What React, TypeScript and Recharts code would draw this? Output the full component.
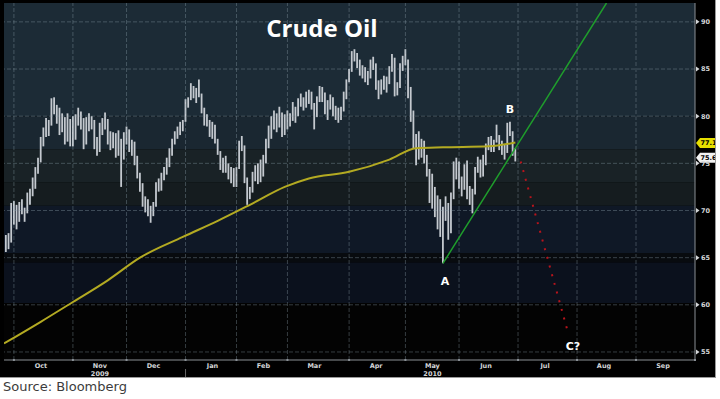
import {
  ComposedChart,
  Bar,
  Line,
  XAxis,
  YAxis,
  ReferenceArea,
  ReferenceLine,
  ReferenceDot,
} from "recharts";

// trading-day index, 0 = Oct 1 2009 (future months counted as weekdays)
const monthStarts = [0, 22, 42, 64, 83, 102, 125, 146, 166, 188, 210, 232, 254];
const monthLabels = ["Oct", "Nov", "Dec", "Jan", "Feb", "Mar", "Apr", "May", "Jun", "Jul", "Aug", "Sep"];
const years = [
  { month: "Nov", label: "2009" },
  { month: "May", label: "2010" },
];
const priceTicks = [55, 60, 65, 70, 75, 80, 85, 90];

const firstDay = -3; // Sep 28 2009

const sepHigh = [67.4, 67.6, 70.8];
const sepLow = [65.6, 65.9, 66.6];
const octHigh = [71.0, 70.6, 70.9, 71.2, 70.3, 71.9, 72.3, 73.5, 74.6, 75.6, 77.8, 78.8, 79.8, 79.6, 81.9, 82.0, 81.2, 80.9, 80.3, 79.9, 80.3, 79.7];
const octLow = [68.5, 68.0, 68.8, 69.6, 68.8, 69.7, 70.6, 71.5, 72.3, 73.9, 75.1, 76.8, 77.8, 77.9, 79.0, 80.2, 79.2, 78.0, 78.3, 77.0, 77.3, 76.8];
const novHigh = [80.0, 80.2, 80.9, 80.5, 79.8, 79.9, 80.3, 80.0, 79.6, 77.8, 79.3, 79.8, 80.4, 79.7, 78.4, 78.3, 78.2, 78.5, 77.6, 78.3];
const novLow = [76.8, 77.5, 79.0, 78.6, 76.5, 77.0, 78.4, 78.6, 76.5, 75.8, 76.2, 78.0, 78.6, 77.0, 76.4, 76.6, 75.6, 75.8, 72.5, 75.4];
const decHigh = [78.9, 78.6, 77.5, 77.3, 75.8, 74.0, 72.9, 71.5, 71.2, 70.5, 70.9, 73.0, 73.4, 74.0, 74.6, 75.6, 76.6, 77.6, 78.4, 78.9, 79.4, 79.6];
const decLow = [77.0, 76.2, 75.8, 74.8, 73.4, 72.0, 70.4, 69.8, 69.4, 68.7, 69.4, 70.4, 72.0, 72.1, 73.2, 73.8, 74.6, 75.8, 77.0, 77.6, 78.0, 78.4];
const janHigh = [81.8, 82.0, 83.5, 83.2, 83.0, 83.9, 82.4, 80.9, 80.2, 79.6, 79.4, 79.1, 77.6, 76.3, 75.6, 75.8, 75.0, 74.6, 74.5];
const janLow = [79.4, 80.9, 81.7, 81.9, 81.4, 82.0, 80.3, 79.0, 78.9, 77.8, 77.6, 77.1, 75.9, 74.3, 74.0, 74.0, 73.3, 72.9, 72.5];
const febHigh = [74.6, 77.4, 77.9, 76.9, 73.5, 72.5, 74.1, 74.8, 75.0, 75.4, 75.9, 77.6, 79.0, 80.0, 80.6, 80.3, 81.0, 80.4, 80.2];
const febLow = [72.5, 74.4, 76.3, 72.9, 70.6, 71.2, 71.9, 73.1, 72.8, 73.0, 73.6, 75.0, 76.6, 77.6, 78.6, 78.3, 78.8, 77.8, 78.0];
const marHigh = [80.6, 80.3, 81.5, 81.0, 81.9, 82.4, 82.0, 82.6, 82.8, 82.6, 81.4, 82.1, 83.2, 83.1, 82.5, 81.7, 82.3, 82.0, 81.1, 80.9, 81.0, 82.6, 83.9];
const marLow = [78.6, 78.9, 79.5, 79.3, 80.0, 81.0, 80.6, 80.9, 81.3, 80.7, 78.6, 79.9, 81.5, 81.5, 80.2, 79.6, 80.7, 80.0, 79.6, 79.3, 79.6, 80.5, 81.8];
const aprHigh = [85.0, 86.9, 87.1, 86.7, 86.0, 85.4, 85.2, 84.8, 86.0, 86.3, 85.6, 83.8, 83.9, 84.3, 84.2, 85.3, 86.6, 86.2, 83.6, 85.6, 86.4];
const aprLow = [83.6, 84.7, 85.8, 85.1, 84.3, 84.0, 83.6, 83.3, 84.0, 84.9, 82.8, 81.8, 82.3, 82.8, 82.5, 83.4, 84.7, 82.1, 82.2, 83.0, 84.8];
const mayHigh = [87.1, 86.0, 83.1, 80.6, 78.1, 78.4, 77.6, 77.4, 75.9, 74.4, 73.9, 72.5, 71.6, 71.2, 70.4, 71.5, 70.8, 71.9, 75.2, 75.6];
const mayLow = [85.4, 81.9, 79.4, 76.6, 74.8, 75.4, 75.6, 75.0, 73.6, 70.8, 70.2, 69.3, 68.0, 67.2, 64.4, 68.9, 66.9, 67.6, 71.2, 73.3];
const junHigh = [75.2, 73.6, 74.9, 75.3, 72.6, 72.3, 74.6, 75.7, 75.4, 75.9, 77.1, 77.8, 77.9, 77.5, 79.1, 78.0, 77.4, 77.0, 79.3, 79.4, 78.4, 76.6];
const junLow = [72.3, 71.5, 72.2, 71.2, 70.6, 69.7, 71.7, 74.0, 73.5, 73.6, 74.8, 76.4, 76.2, 76.2, 77.2, 76.4, 75.9, 75.4, 76.1, 77.9, 75.8, 75.2];

// 200-day moving average read at a few days
const maDays = [-3.7, 10, 22, 35, 47, 63, 76, 88, 101, 110, 125, 140, 150, 160, 177, 187];
const maValues = [55.9, 58.2, 60.3, 62.6, 65.0, 67.2, 68.9, 70.6, 72.5, 73.4, 74.1, 75.4, 76.6, 76.7, 76.8, 77.2];

const trendDays = [160, 221];
const trendValues = [64.4, 92.0];
const projDays = [189, 206.6];
const projValues = [75.2, 57.1];

const maTag = { value: 77.16, text: "77.16" };
const lastTag = { value: 75.6, text: "75.63" };

const highs = [...sepHigh, ...octHigh, ...novHigh, ...decHigh, ...janHigh, ...febHigh, ...marHigh, ...aprHigh, ...mayHigh, ...junHigh];
const lows = [...sepLow, ...octLow, ...novLow, ...decLow, ...janLow, ...febLow, ...marLow, ...aprLow, ...mayLow, ...junLow];
const bars = highs.map((h, k) => ({ i: firstDay + k, range: [lows[k], h] }));
const maData = maDays.map((d, k) => ({ i: d, v: maValues[k] }));
const trendData = trendDays.map((d, k) => ({ i: d, v: trendValues[k] }));
const projData = projDays.map((d, k) => ({ i: d, v: projValues[k] }));

const bands = [
  { y1: 80, y2: 92.2, fill: "#1c2b36" },
  { y1: 76.5, y2: 80, fill: "#1a2731" },
  { y1: 73, y2: 76.5, fill: "#192226" },
  { y1: 70.5, y2: 73, fill: "#151c1f" },
  { y1: 65.5, y2: 70.5, fill: "#0f1826" },
  { y1: 64.5, y2: 65.5, fill: "#080b0f" },
  { y1: 60.2, y2: 64.5, fill: "#0b111d" },
  { y1: 54, y2: 60.2, fill: "#030303" },
];

const tickFont = { fontFamily: "DejaVu Sans", fontWeight: "bold", fontSize: 6.5, fill: "#d4d6d8" };
const gridStroke = "rgba(150,170,180,0.35)";

function MonthTick({ x, y, payload }: any) {
  const k = monthStarts.indexOf(payload.value);
  const label = monthLabels[k];
  const year = years.find((yr) => yr.month === label);
  return (
    <g>
      <rect x={x - 1} y={y - 1} width={2} height={2} fill="#8a9096" />
      {label && (
        <text x={x + 27} y={y + 8} textAnchor="middle" {...tickFont}>
          {label}
        </text>
      )}
      {year && (
        <text x={x + 27} y={y + 16} textAnchor="middle" {...tickFont}>
          {year.label}
        </text>
      )}
      {label === "Jan" && <line x1={x} x2={x} y1={y + 9} y2={y + 17} stroke="#666" />}
    </g>
  );
}

function PriceTick({ x, y, payload }: any) {
  return (
    <g>
      <path d={`M${x + 1},${y - 2.5} L${x + 4.5},${y} L${x + 1},${y + 2.5} Z`} fill="#d4d6d8" />
      <text x={x + 6} y={y + 2.4} {...tickFont}>
        {payload.value}
      </text>
    </g>
  );
}

function PriceTag({ viewBox, text, fill }: any) {
  const x = viewBox.x + viewBox.width + 1;
  const y = viewBox.y;
  return (
    <g>
      <path d={`M${x},${y} L${x + 4},${y - 5} L${x + 30},${y - 5} L${x + 30},${y + 5} L${x + 4},${y + 5} Z`} fill={fill} />
      <text x={x + 4.5} y={y + 2.4} fontFamily="DejaVu Sans" fontWeight="bold" fontSize={6.5} fill="#000">
        {text}
      </text>
    </g>
  );
}

const letterStyle = { fill: "#ffffff", fontFamily: "DejaVu Sans", fontWeight: "bold", fontSize: 11 };

export default function App() {
  return (
    <div style={{ position: "absolute", left: 0, top: 0, width: 720, height: 399, background: "#fff", overflow: "hidden" }}>
      <div
        style={{
          position: "absolute",
          left: 0,
          top: 0,
          width: 715,
          height: 377,
          background: "#000",
          borderRight: "1px solid #9a9a9a",
          borderBottom: "1px solid #9a9a9a",
        }}
      >
        <ComposedChart width={715} height={377} data={bars} margin={{ top: 3, right: 0, bottom: 0, left: 4 }}>
          <XAxis
            dataKey="i"
            type="number"
            domain={[-3.7, 254]}
            ticks={monthStarts}
            interval={0}
            tick={<MonthTick />}
            tickSize={0}
            tickMargin={0}
            tickLine={false}
            axisLine={{ stroke: "#8a8f94" }}
            height={17}
            allowDataOverflow
          />
          <YAxis
            orientation="right"
            domain={[54.15, 92.0]}
            ticks={priceTicks}
            interval={0}
            tick={<PriceTick />}
            tickSize={0}
            tickMargin={0}
            tickLine={false}
            axisLine={{ stroke: "#8a8f94" }}
            width={20}
            allowDataOverflow
          />
          {bands.map((b) => (
            <ReferenceArea key={b.y1} y1={b.y1} y2={b.y2} fill={b.fill} fillOpacity={1} stroke="none" ifOverflow="hidden" />
          ))}
          {priceTicks.map((p) => (
            <ReferenceLine key={"h" + p} y={p} stroke={gridStroke} strokeDasharray="4 2" />
          ))}
          {monthStarts.slice(0, -1).map((m) => (
            <ReferenceLine key={"v" + m} x={m} stroke={gridStroke} strokeDasharray="4 2" />
          ))}
          <Bar dataKey="range" barSize={1.8} fill="#c4c9cf" isAnimationActive={false} />
          <Line data={maData} dataKey="v" type="monotone" stroke="#b3aa22" strokeWidth={2} dot={false} isAnimationActive={false} />
          <Line data={trendData} dataKey="v" type="linear" stroke="#1f9e2c" strokeWidth={1.5} dot={false} isAnimationActive={false} />
          <Line
            data={projData}
            dataKey="v"
            type="linear"
            stroke="#b8141c"
            strokeWidth={2}
            strokeDasharray="2 7"
            dot={false}
            isAnimationActive={false}
          />
          <ReferenceLine y={maTag.value} stroke="none" label={<PriceTag text={maTag.text} fill="#e6df00" />} />
          <ReferenceLine y={lastTag.value} stroke="none" label={<PriceTag text={lastTag.text} fill="#f2f2f2" />} />
          <ReferenceDot x={160.8} y={62.5} r={0} label={{ value: "A", position: "center", ...letterStyle }} />
          <ReferenceDot x={185} y={80.8} r={0} label={{ value: "B", position: "center", ...letterStyle }} />
          <ReferenceDot x={208.5} y={55.6} r={0} label={{ value: "C?", position: "center", ...letterStyle }} />
        </ComposedChart>
        <div
          style={{
            position: "absolute",
            left: 222,
            top: 13,
            width: 200,
            textAlign: "center",
            color: "#fff",
            fontFamily: "Open Sans",
            fontWeight: 700,
            fontSize: 24,
            lineHeight: "30px",
          }}
        >
          Crude Oil
        </div>
      </div>
      <div
        style={{
          position: "absolute",
          left: 3,
          top: 378,
          fontFamily: "DejaVu Sans",
          fontSize: 13,
          lineHeight: "18px",
          color: "#3c3c3c",
        }}
      >
        Source: Bloomberg
      </div>
    </div>
  );
}
